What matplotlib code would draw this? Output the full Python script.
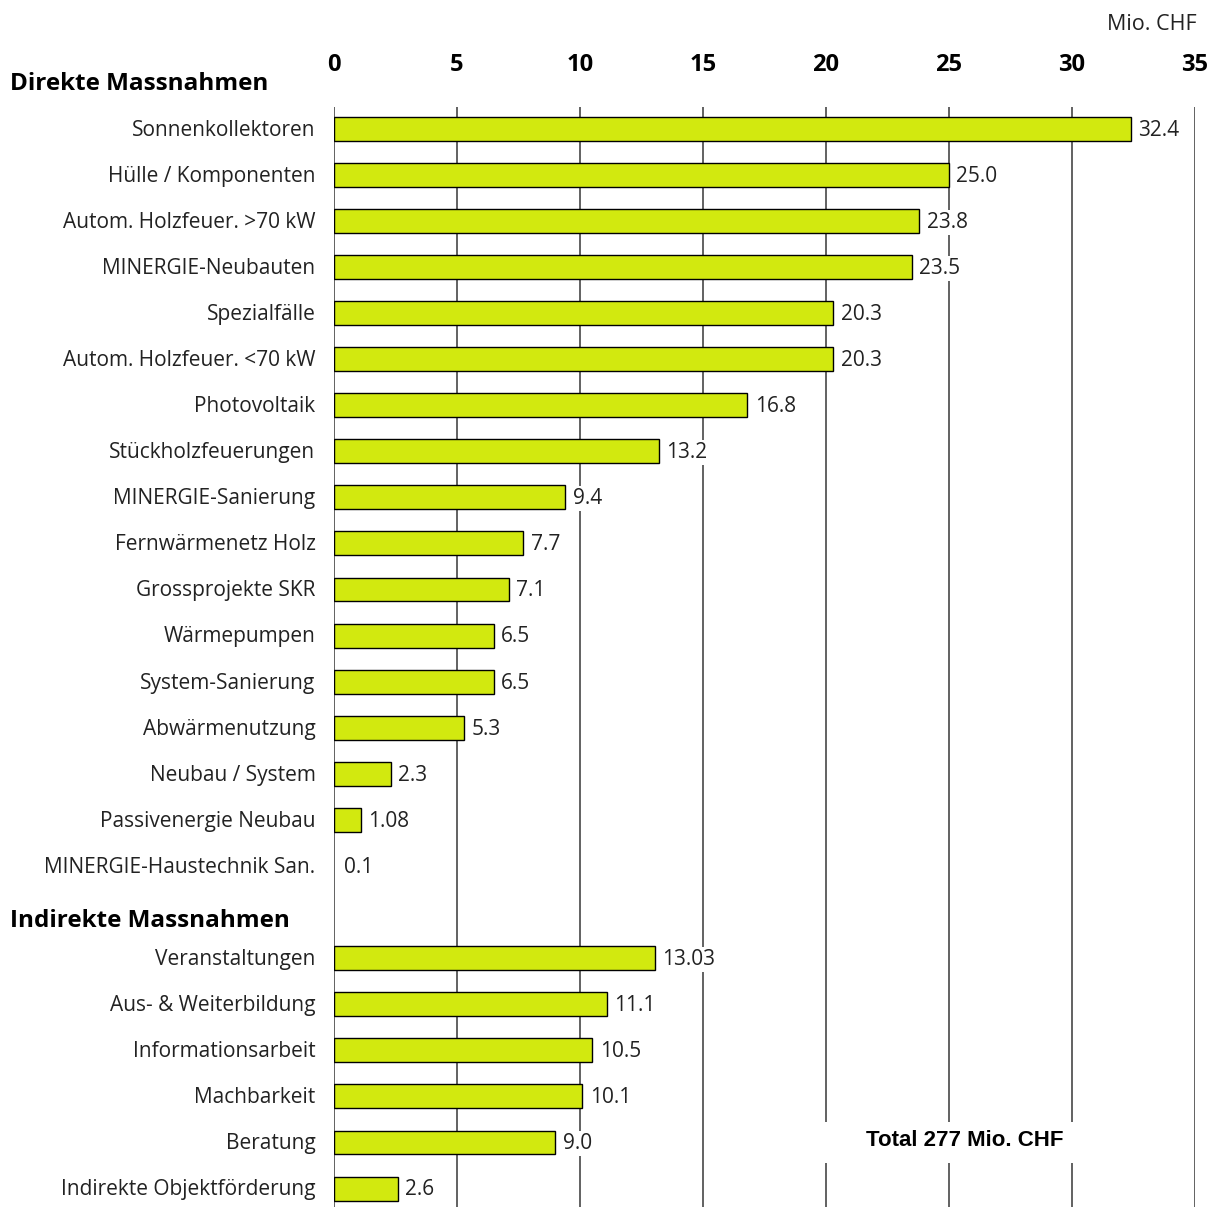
import matplotlib.pyplot as plt
from matplotlib.patches import Rectangle

# data
direct_labels = ['Sonnenkollektoren', 'Hülle / Komponenten', 'Autom. Holzfeuer. >70 kW',
                 'MINERGIE-Neubauten', 'Spezialfälle', 'Autom. Holzfeuer. <70 kW',
                 'Photovoltaik', 'Stückholzfeuerungen', 'MINERGIE-Sanierung',
                 'Fernwärmenetz Holz', 'Grossprojekte SKR', 'Wärmepumpen',
                 'System-Sanierung', 'Abwärmenutzung', 'Neubau / System',
                 'Passivenergie Neubau', 'MINERGIE-Haustechnik San.']
direct_values = [32.4, 25.0, 23.8, 23.5, 20.3, 20.3, 16.8, 13.2, 9.4, 7.7, 7.1,
                 6.5, 6.5, 5.3, 2.3, 1.08, 0.1]
direct_texts = ['32.4', '25.0', '23.8', '23.5', '20.3', '20.3', '16.8', '13.2', '9.4',
                '7.7', '7.1', '6.5', '6.5', '5.3', '2.3', '1.08', '0.1']

indirect_labels = ['Veranstaltungen', 'Aus- & Weiterbildung', 'Informationsarbeit',
                   'Machbarkeit', 'Beratung', 'Indirekte Objektförderung']
indirect_values = [13.03, 11.1, 10.5, 10.1, 9.0, 2.6]
indirect_texts = ['13.03', '11.1', '10.5', '10.1', '9.0', '2.6']

xticks = [0, 5, 10, 15, 20, 25, 30, 35]

bar_color = '#d2e90f'
font = 'Open Sans'

fig = plt.figure(figsize=(12.07, 12.07), dpi=100)
ax = fig.add_axes([334 / 1207, 0.0, (1195 - 334) / 1207, 1 - 107 / 1207])

labels = direct_labels + [None] + indirect_labels
values = direct_values + [None] + indirect_values
texts = direct_texts + [None] + indirect_texts

for x in xticks:
    ax.axvline(x, color='#555555', lw=1.3, zorder=0)

for i, (lab, val, txt) in enumerate(zip(labels, values, texts)):
    if lab is None:
        continue
    if val > 0.2:
        ax.barh(i, val, height=0.52, color=bar_color, edgecolor='black', lw=1.0, zorder=2)
    ax.text(val + 0.3, i + 0.03, txt, va='center', ha='left', fontsize=15,
            family=font, color='#222222', zorder=3,
            bbox=dict(facecolor='white', edgecolor='none', pad=1.5))
    ax.text(-0.75, i + 0.03, lab, va='center', ha='right', fontsize=15,
            family=font, color='#222222')

ax.set_xlim(0, 35)
ax.set_ylim(23.4, -0.47)
ax.set_yticks([])
ax.set_xticks([])
for s in ax.spines.values():
    s.set_visible(False)

# tick labels on top
for x in xticks:
    fig.text((334 + x * (1195 - 334) / 35) / 1207, 1 - 65 / 1207, str(x),
             ha='center', va='center', fontsize=17, fontweight='bold', family=font)

fig.text(1197 / 1207, 1 - 24 / 1207, 'Mio. CHF', ha='right', va='center',
         fontsize=15.5, family=font, color='#222222')

fig.text(10 / 1207, 1 - 84 / 1207, 'Direkte Massnahmen', ha='left', va='center',
         fontsize=17.5, fontweight='bold', family=font)
fig.text(10 / 1207, 1 - 921 / 1207, 'Indirekte Massnahmen', ha='left', va='center',
         fontsize=17.5, fontweight='bold', family=font)

# total note with white box hiding the grid
ax.add_patch(Rectangle((19.8, 21.55), 10.4, 0.9, facecolor='white', edgecolor='none', zorder=3))
ax.text(25.65, 21.95, 'Total 277 Mio. CHF', ha='center', va='center', fontsize=16,
        fontweight='bold', family='Liberation Sans', zorder=4)

fig.savefig('out.png', dpi=100)
